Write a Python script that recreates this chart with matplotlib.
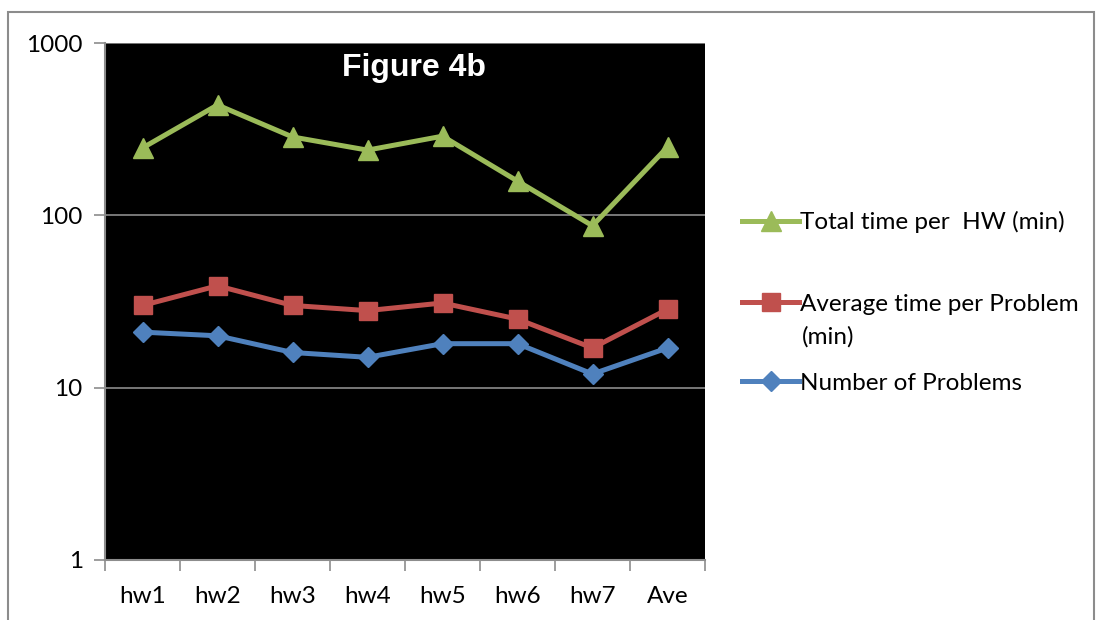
import matplotlib
matplotlib.use("Agg")
import matplotlib.pyplot as plt
from matplotlib.patches import Rectangle
from matplotlib.ticker import FixedLocator, NullFormatter, FixedFormatter

categories = ["hw1", "hw2", "hw3", "hw4", "hw5", "hw6", "hw7", "Ave"]
total_time = [246, 437, 285, 239, 288, 158, 87, 249]
avg_time = [30, 39, 30, 28, 31, 25, 17, 28.5]
num_problems = [21, 20, 16, 15, 18, 18, 12, 17]

labels = ["Total time per  HW (min)", "Average time per Problem", "Number of Problems"]
label2_cont = "(min)"
colors = ["#9BBB59", "#C0504D", "#4F81BD"]

plt.rcParams['font.family'] = ['Lato', 'DejaVu Sans']
FS = 17.5

W, H = 1102, 620
fig = plt.figure(figsize=(W / 100, H / 100), dpi=100)
fig.patch.set_facecolor("white")
ax = fig.add_axes([105 / W, 1 - 560 / H, 600 / W, 517 / H])
ax.set_facecolor("black")

x = list(range(len(categories)))
l1, = ax.plot(x, total_time, color=colors[0], lw=3.6, marker="^", ms=15, zorder=3)
l2, = ax.plot(x, avg_time, color=colors[1], lw=3.6, marker="s", ms=12.5, zorder=3)
l3, = ax.plot(x, num_problems, color=colors[2], lw=3.6, marker="D", ms=10, zorder=3)

ax.set_yscale("log")
ax.set_ylim(1, 1000)
ax.set_xlim(-0.5, len(categories) - 0.5)
ax.yaxis.set_major_locator(FixedLocator([1, 10, 100, 1000]))
ax.yaxis.set_major_formatter(FixedFormatter(["1", "10", "100", "1000"]))
ax.yaxis.set_minor_locator(FixedLocator([]))
ax.yaxis.set_minor_formatter(NullFormatter())
ax.grid(axis="y", which="major", color="#8c8c8c", lw=1.2, zorder=1)

ax.set_xticks(x)
ax.set_xticklabels(categories)
ax.set_xticks([i - 0.5 for i in range(len(categories) + 1)], minor=True)
ax.tick_params(axis="x", which="major", length=0, pad=19, labelsize=FS)
ax.tick_params(axis="x", which="minor", length=8, width=1.2, color="#8c8c8c", direction="out")
ax.tick_params(axis="y", which="major", length=8, width=1.2, color="#8c8c8c", direction="out", pad=8, labelsize=FS)

for s in ["top", "right"]:
    ax.spines[s].set_visible(False)
for s in ["left", "bottom"]:
    ax.spines[s].set_color("#8c8c8c")
    ax.spines[s].set_linewidth(1.5)

ax.text(0.515, 1 - 25 / 517, "Figure 4b", transform=ax.transAxes, color="white",
        fontsize=23, fontweight="bold", family="Liberation Sans", ha="center", va="center")

# outer border
fig.patches.append(Rectangle((8 / W, -0.05), (1094 - 8) / W, (1 - 12 / H) + 0.05,
                             transform=fig.transFigure, fill=False, ec="#8c8c8c", lw=1.5))

common = dict(frameon=False, fontsize=FS, handlelength=2.35, handletextpad=0.05,
              borderpad=0, borderaxespad=0, loc="center left")
fig.legend([l1], [labels[0]], bbox_to_anchor=(742 / W, 1 - 222 / H), **common)
fig.legend([l2], [labels[1]], bbox_to_anchor=(742 / W, 1 - 304 / H), **common)
fig.text(802 / W, 1 - 337 / H, label2_cont, fontsize=FS, ha="left", va="center")
fig.legend([l3], [labels[2]], bbox_to_anchor=(742 / W, 1 - 383 / H), **common)

fig.savefig("out.png", dpi=100)
